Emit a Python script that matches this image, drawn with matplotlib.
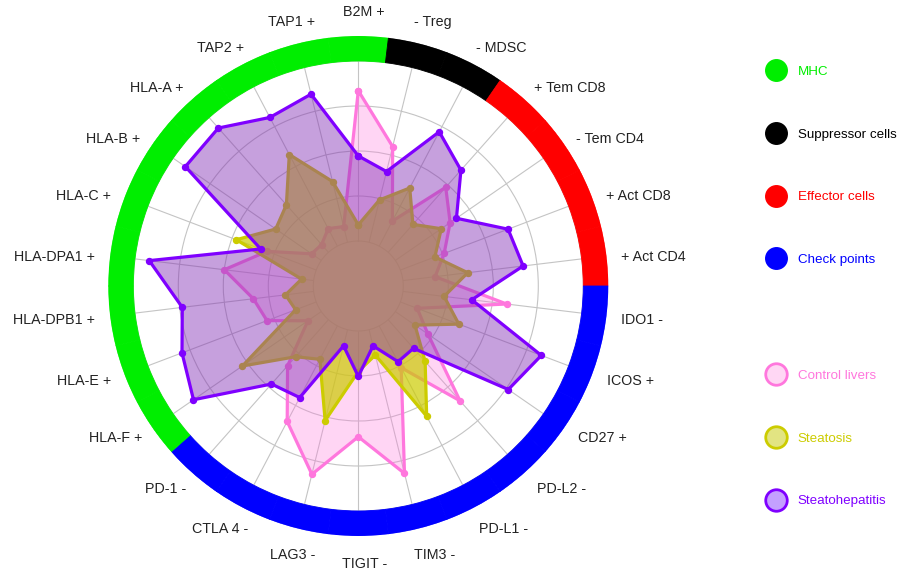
import numpy as np
import matplotlib
matplotlib.use("Agg")
import matplotlib.pyplot as plt
from matplotlib.lines import Line2D

plt.rcParams['font.family'] = ['Liberation Sans', 'DejaVu Sans']

# ---------------- data ----------------
categories = ["B2M +", "- Treg", "- MDSC", "+ Tem CD8", "- Tem CD4", "+ Act CD8", "+ Act CD4",
              "IDO1 -", "ICOS +", "CD27 +", "PD-L2 -", "PD-L1 -", "TIM3 -", "TIGIT -",
              "LAG3 -", "CTLA 4 -", "PD-1 -", "HLA-F +", "HLA-E +", "HLA-DPB1 +", "HLA-DPA1 +",
              "HLA-C +", "HLA-B +", "HLA-A +", "TAP2 +", "TAP1 +"]
category_group = (["MHC"] + ["Suppressor cells"] * 2 + ["Effector cells"] * 4 +
                  ["Check points"] * 10 + ["MHC"] * 9)

group_names = ["MHC", "Suppressor cells", "Effector cells", "Check points"]
group_colors = ["#00EE00", "#000000", "#FF0000", "#0000FF"]

control_livers = [3.34, 2.19, 0.63, 1.93, 1.48, 1.04, 0.72, 2.32, 0.40, 0.88, 2.41, 1.05, 3.29,
                  2.35, 3.31, 2.40, 1.37, 0.36, 1.17, 1.35, 2.00, 1.17, 0.26, 0.23, 0.44, 0.36]
steatosis = [0.36, 0.97, 1.46, 0.83, 1.24, 0.82, 1.45, 0.92, 1.39, 0.53, 1.24, 2.27, 0.58,
             0.90, 2.08, 0.84, 1.10, 2.13, 0.49, 0.63, 0.27, 1.90, 1.23, 1.41, 2.30, 1.39]
steatohepatitis = [1.89, 1.62, 2.87, 2.44, 1.65, 2.56, 2.69, 1.54, 3.35, 3.05, 0.85, 0.90, 0.37,
                   1.01, 0.37, 1.80, 1.91, 3.45, 3.19, 2.94, 3.68, 1.32, 3.67, 3.69, 3.23, 3.39]

series_names = ["Control livers", "Steatosis", "Steatohepatitis"]
series_values = [control_livers, steatosis, steatohepatitis]
series_line = ["#FF77DD", "#CCCC00", "#7F00FF"]
series_fill = [("#FF77DD", 0.30), ("#CCCC00", 0.70), ("#822DB4", 0.45)]
legend_fill = ["#FFD7F4", "#E2E482", "#C4A0FF"]

# ---------------- figure ----------------
W, H = 898, 574
fig = plt.figure(figsize=(W / 100, H / 100), dpi=100)
cx, cy, R_PX = 358.3, 286.0, 250.0
ax = fig.add_axes([(cx - R_PX) / W, (H - cy - R_PX) / H, 2 * R_PX / W, 2 * R_PX / H],
                  projection='polar')
ax.set_theta_zero_location('N')
ax.set_theta_direction(-1)

r_hole = -1.0
r_grid = 4.0
r_out = 4.0 + 25.0 / 45.0
ax.set_ylim(r_hole, r_out)

n = len(categories)
theta = np.arange(n) * 2 * np.pi / n
step = 2 * np.pi / n

# grid
ax.set_axisbelow(True)
ax.set_yticks([0, 1, 2, 3, 4])
ax.set_yticklabels([])
ax.set_xticks([])
ax.yaxis.grid(True, color='#c4c4c4', linewidth=0.8)
ax.xaxis.grid(False)
ax.vlines(theta, 0, r_grid, color='#c4c4c4', linewidth=0.8, zorder=0.6)
ax.spines['polar'].set_visible(False)
ax.set_facecolor('white')

# series
th_closed = np.append(theta, theta[0])
z = 2.0
for vals, lc, (fc, fa) in zip(series_values, series_line, series_fill):
    v = np.append(vals, vals[0])
    ax.fill(th_closed, v, facecolor=fc, alpha=fa, edgecolor='none', zorder=z)
    ax.plot(th_closed, v, color=lc, linewidth=2.3, marker='o', markersize=4.3, zorder=z + 0.1)
    z += 0.2

# outer ring
ring_colors = [group_colors[group_names.index(g)] for g in category_group]
ax.bar(theta, r_out - r_grid, width=step, bottom=r_grid, color=ring_colors,
       edgecolor=ring_colors, linewidth=0.6, zorder=5)

# category labels
fs_lab = 10.3
r_lab_px = 265.0
r_lab = r_lab_px / 45.0 + r_hole
renderer = fig.canvas.get_renderer()
for t, lab in zip(theta, categories):
    ann = ax.annotate(lab, xy=(t, r_lab), xytext=(0, 0), textcoords='offset pixels',
                      ha='center', va='center', fontsize=fs_lab, color='#222222',
                      annotation_clip=False, zorder=6)
    bb = ann.get_window_extent(renderer)
    w = bb.width
    c = np.cos(t)
    sx = np.clip(1.5 * np.sin(t), -1, 1)
    shift = 6.0 * c ** 8 if c > 0 else 6.0 * c ** 2
    dx = 0.5 * w * sx + shift
    r_eff = 258.0 + 18.0 * c ** 2
    dy = (r_eff - r_lab_px) * c - 2.5
    ann.xyann = (dx, dy)

# legends
fs_leg = 9.6
h1 = [Line2D([], [], linestyle='none', marker='o', markersize=15.5,
             markerfacecolor=c, markeredgecolor=c, markeredgewidth=1.0) for c in group_colors]
leg1 = fig.legend(h1, group_names, loc='upper left', bbox_to_anchor=(0.855, 0.8858),
                  frameon=False, fontsize=fs_leg, handlelength=1.2, handletextpad=1.05,
                  labelspacing=3.78, borderpad=0, borderaxespad=0, labelcolor='markeredgecolor')
h2 = [Line2D([], [], linestyle='none', marker='o', markersize=15.5,
             markerfacecolor=f, markeredgecolor=c, markeredgewidth=2.0)
      for f, c in zip(legend_fill, series_line)]
leg2 = fig.legend(h2, series_names, loc='upper left', bbox_to_anchor=(0.855, 0.3563),
                  frameon=False, fontsize=fs_leg, handlelength=1.2, handletextpad=1.05,
                  labelspacing=3.78, borderpad=0, borderaxespad=0, labelcolor='markeredgecolor')

fig.savefig('out.png', dpi=100, facecolor='white')
